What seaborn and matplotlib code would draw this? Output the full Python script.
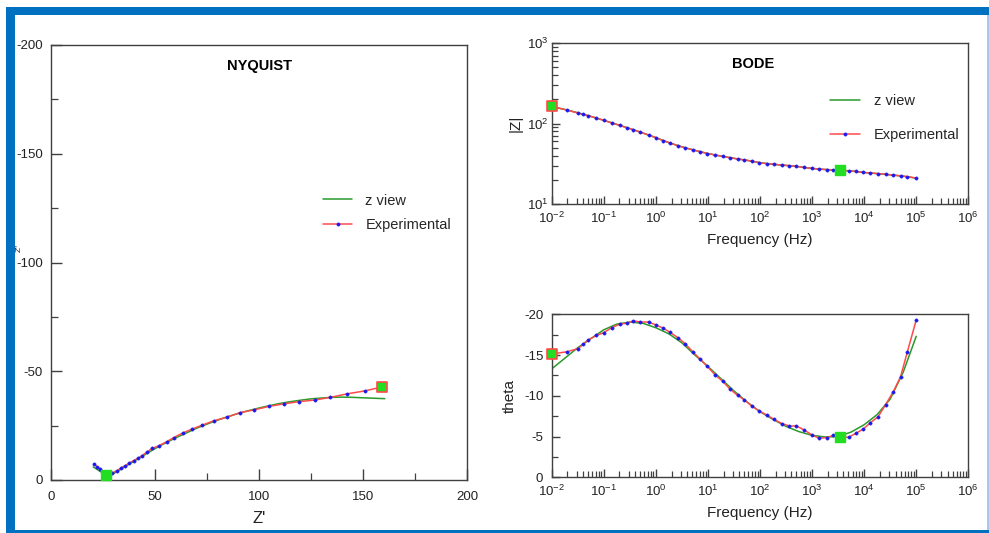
import numpy as np
import pandas as pd
import matplotlib
matplotlib.use("Agg")
import matplotlib.pyplot as plt
import seaborn as sns
from matplotlib.patches import Rectangle
from matplotlib.ticker import LogLocator, MultipleLocator, FuncFormatter, NullFormatter

# ---------------- data ----------------
# Nyquist, experimental (Z', Z'')  high -> low frequency
nyq_exp_zr = [20.5, 22.0, 23.7, 25.2, 26.6, 28.0, 29.3, 31.7, 33.6, 35.7, 37.6, 39.7, 41.8, 43.7,
              46.2, 48.6, 51.7, 55.8, 59.0, 63.3, 67.8, 72.6, 78.2, 84.6, 91.0, 97.4, 104.6, 111.8,
              119.0, 127.0, 134.3, 142.3, 151.1, 159.1]
nyq_exp_zi = [-7.5, -6.2, -5.0, -3.6, -2.4, -2.7, -3.2, -4.3, -5.5, -6.6, -7.8, -8.9, -10.0, -11.2,
              -12.9, -14.5, -15.7, -17.7, -19.5, -21.6, -23.4, -25.2, -27.2, -28.9, -31.0, -32.2, -33.8,
              -35.0, -36.0, -36.8, -38.0, -39.6, -41.0, -42.8]
# Nyquist, fit (z view)
nyq_fit_zr = [20.3, 22.0, 23.5, 25.2, 27.0, 30.0, 33.0, 36.0, 40.0, 44.0, 48.0, 52.0, 56.0, 60.0,
              65.0, 70.0, 75.0, 80.0, 85.0, 90.0, 95.0, 100.0, 105.0, 110.0, 115.0, 120.0, 125.0,
              130.0, 135.0, 140.0, 145.0, 150.0, 155.0, 160.5]
nyq_fit_zi = [-6.0, -5.0, -4.0, -3.0, -2.3, -2.9, -4.6, -6.4, -8.7, -11.0, -13.3, -15.5, -17.5, -19.4,
              -21.6, -23.8, -25.7, -27.5, -29.1, -30.6, -31.9, -33.1, -34.2, -35.2, -36.0, -36.7,
              -37.3, -37.7, -38.0, -38.1, -38.0, -37.8, -37.6, -37.4]

# Bode, experimental
exp_freq = [0.01, 0.0195, 0.0324, 0.0398, 0.0501, 0.0724, 0.1, 0.141, 0.204, 0.275, 0.372, 0.501,
            0.724, 1.0, 1.38, 1.86, 2.69, 3.63, 5.13, 7.08, 9.77, 13.8, 19.1, 26.3, 37.2, 50.1, 69.2,
            95.5, 135, 186, 263, 363, 501, 708, 1000, 1349, 1905, 2570, 3467, 5012, 6918, 9550,
            13183, 18621, 25704, 36308, 50119, 67608, 100000]
exp_modz = [164, 148, 135, 130, 126, 117.5, 110, 102, 95, 89, 84, 78.5, 72.4, 67, 61.7, 57.5, 53, 50,
            47.3, 44.7, 42.5, 40.7, 39.1, 37.7, 36.4, 35.3, 34.3, 32.7, 31.8, 31.2, 30.5, 30.1, 29.4,
            28.5, 27.7, 27.2, 26.8, 26.5, 26.3, 25.9, 25.4, 24.7, 24.3, 23.9, 23.4, 22.9, 22.4, 21.9, 21.0]
exp_theta = [-15.13, -15.4, -15.8, -16.3, -16.85, -17.4, -17.75, -18.35, -18.8, -18.9, -19.2, -19.05,
             -19.05, -18.7, -18.3, -17.8, -17.1, -16.4, -15.4, -14.5, -13.6, -12.55, -11.8, -10.85,
             -10.05, -9.5, -8.75, -8.15, -7.65, -7.1, -6.6, -6.3, -6.3, -5.8, -5.2, -4.8, -4.87, -5.15,
             -5.0, -4.9, -5.4, -5.9, -6.7, -7.45, -8.9, -10.5, -12.35, -15.4, -19.3]

# Bode, fit (z view)
fit_freq = [0.01, 0.0178, 0.0316, 0.0562, 0.1, 0.178, 0.316, 0.562, 1.0, 1.78, 3.16, 5.62, 10, 17.8,
            31.6, 56.2, 100, 178, 316, 562, 1000, 1778, 3162, 5623, 10000, 17783, 31623, 56234, 100000]
fit_modz = [163, 150, 137, 123, 110, 98, 87, 76.5, 67, 58, 51.5, 46.5, 42.5, 39.5, 37, 34.9, 32.7,
            31.2, 30.2, 29.1, 27.7, 26.9, 26.4, 25.8, 24.7, 23.9, 23.1, 22.2, 21.0]
fit_theta = [-13.3, -14.6, -15.9, -17.0, -18.1, -18.8, -19.05, -18.9, -18.35, -17.6, -16.5, -15.0,
             -13.6, -12.1, -10.6, -9.25, -8.05, -7.1, -6.25, -5.6, -5.15, -4.95, -5.0, -5.55, -6.45,
             -7.7, -9.6, -12.9, -17.3]

# selected points (cursor markers)
sel_freq = [0.01, 3467]
sel_modz = [164, 26.4]
sel_theta = [-15.1, -5.0]
sel_zr = [159.1, 26.6]
sel_zi = [-42.8, -2.4]

# ---------------- style ----------------
sns.set_style("white")
plt.rcParams['font.family'] = ['Liberation Sans', 'DejaVu Sans']
plt.rcParams['axes.unicode_minus'] = False
plt.rcParams['mathtext.fontset'] = 'custom'
plt.rcParams['mathtext.rm'] = 'Liberation Sans'
plt.rcParams['mathtext.it'] = 'Liberation Sans:italic'
plt.rcParams['mathtext.default'] = 'regular'

GREEN = "#2a9a2a"
RED = "#ff4a4a"
BLUE = "#1a1aee"
SEL_GREEN = "#22dd22"
SPINE = "#404040"
TXT = "#222222"

W, H = 989, 533
fig = plt.figure(figsize=(W / 100, H / 100), dpi=100)
fig.patch.set_facecolor("white")


def px_axes(x0, x1, ytop, ybot):
    return fig.add_axes([x0 / W, 1 - ybot / H, (x1 - x0) / W, (ybot - ytop) / H])


def style_axes(ax, major_len, minor_len, labelsize=9.5):
    for s in ax.spines.values():
        s.set_color(SPINE)
        s.set_linewidth(1.0)
        s.set_visible(True)
    ax.tick_params(which='both', direction='in', bottom=True, left=True, top=False, right=False,
                   colors=SPINE, labelcolor=TXT, labelsize=labelsize)
    ax.tick_params(which='major', length=major_len, width=1.0)
    ax.tick_params(which='minor', length=minor_len, width=0.9)
    ax.set_facecolor("white")


def draw_exp(ax, x, y, label):
    sns.lineplot(x=x, y=y, ax=ax, color=RED, lw=1.1, sort=False, estimator=None,
                 marker='o', markersize=2.4, markerfacecolor=BLUE, markeredgecolor=BLUE,
                 markeredgewidth=0.3, label=label, zorder=3)


def draw_fit(ax, x, y, label):
    sns.lineplot(x=x, y=y, ax=ax, color=GREEN, lw=1.1, sort=False, estimator=None,
                 label=label, zorder=2)


def draw_sel(ax, x, y):
    ax.scatter([x[0]], [y[0]], marker='s', s=42, facecolor=SEL_GREEN, edgecolor=RED,
               linewidth=1.2, zorder=5, clip_on=False)
    ax.scatter([x[1]], [y[1]], marker='s', s=42, facecolor=SEL_GREEN, edgecolor=SEL_GREEN,
               linewidth=1.0, zorder=5, clip_on=False)


# ---------------- Nyquist ----------------
axn = px_axes(51, 467, 45, 480)
draw_fit(axn, nyq_fit_zr, nyq_fit_zi, "z view")
draw_exp(axn, nyq_exp_zr, nyq_exp_zi, "Experimental")
draw_sel(axn, sel_zr, sel_zi)
axn.set_xlim(0, 200)
axn.set_ylim(0, -200)
style_axes(axn, 8, 5)
axn.xaxis.set_major_locator(MultipleLocator(50))
axn.xaxis.set_minor_locator(MultipleLocator(25))
axn.yaxis.set_major_locator(MultipleLocator(50))
axn.yaxis.set_minor_locator(MultipleLocator(25))
axn.yaxis.set_major_formatter(FuncFormatter(lambda v, p: f"{int(round(v))}"))
axn.tick_params(axis='x', which='major', pad=8)
axn.tick_params(axis='y', which='major', pad=6)
axn.set_xlabel("Z'", fontsize=12, color=TXT, labelpad=6)
axn.set_ylabel("")
axn.text(0.5, 0.952, "NYQUIST", transform=axn.transAxes, ha='center', va='center',
         fontsize=10.5, fontweight='bold', color='black')
axn.legend(loc='upper left', bbox_to_anchor=(0.64, 0.672), frameon=False, fontsize=10.5,
           handlelength=2.0, handletextpad=0.9, labelspacing=0.75, borderaxespad=0)

# ---------------- Bode |Z| ----------------
axb = px_axes(551.7, 968.3, 43.3, 204)
draw_fit(axb, fit_freq, fit_modz, "z view")
draw_exp(axb, exp_freq, exp_modz, "Experimental")
draw_sel(axb, sel_freq, sel_modz)
axb.set_xscale('log')
axb.set_yscale('log')
axb.set_xlim(1e-2, 1e6)
axb.set_ylim(10, 1000)
style_axes(axb, 6, 4)
axb.xaxis.set_major_locator(LogLocator(base=10, numticks=20))
axb.xaxis.set_minor_locator(LogLocator(base=10, subs=np.arange(2, 10), numticks=20))
axb.xaxis.set_minor_formatter(NullFormatter())
axb.yaxis.set_major_locator(LogLocator(base=10, numticks=10))
axb.yaxis.set_minor_locator(LogLocator(base=10, subs=np.arange(2, 10), numticks=10))
axb.yaxis.set_minor_formatter(NullFormatter())
axb.tick_params(axis='x', which='major', pad=5)
axb.tick_params(axis='y', which='major', pad=2)
axb.set_xlabel("Frequency (Hz)", fontsize=11, color=TXT, labelpad=5)
axb.set_ylabel("|Z|", fontsize=11, color=TXT, labelpad=3)
axb.text(0.483, 0.873, "BODE", transform=axb.transAxes, ha='center', va='center',
         fontsize=10.5, fontweight='bold', color='black')
axb.legend(loc='upper left', bbox_to_anchor=(0.655, 0.72), frameon=False, fontsize=10.5,
           handlelength=2.0, handletextpad=1.0, labelspacing=1.35, borderaxespad=0)

# ---------------- Bode theta ----------------
axp = px_axes(551.7, 968.3, 314.3, 477.3)
draw_fit(axp, fit_freq, fit_theta, "z view")
draw_exp(axp, exp_freq, exp_theta, "Experimental")
draw_sel(axp, sel_freq, sel_theta)
axp.set_xscale('log')
axp.set_xlim(1e-2, 1e6)
axp.set_ylim(0, -20)
style_axes(axp, 6, 4)
axp.xaxis.set_major_locator(LogLocator(base=10, numticks=20))
axp.xaxis.set_minor_locator(LogLocator(base=10, subs=np.arange(2, 10), numticks=20))
axp.xaxis.set_minor_formatter(NullFormatter())
axp.yaxis.set_major_locator(MultipleLocator(5))
axp.yaxis.set_minor_locator(MultipleLocator(2.5))
axp.yaxis.set_major_formatter(FuncFormatter(lambda v, p: f"{int(round(v))}"))
axp.tick_params(axis='x', which='major', pad=5)
axp.tick_params(axis='y', which='major', pad=6)
axp.set_xlabel("Frequency (Hz)", fontsize=11, color=TXT, labelpad=5)
axp.set_ylabel("theta", fontsize=11, color=TXT, labelpad=5)
if axp.get_legend() is not None:
    axp.get_legend().remove()

# clipped Z'' label at far left (kept clear of the -100 tick label)
fig.text(15.5 / W, 1 - 248 / H, "Z''", rotation=90, fontsize=6, color=TXT, ha='left', va='center')

# ---------------- blue frame ----------------
FRAME = "#0070c0"


def frame_rect(x0, y0, x1, y1, color):
    fig.add_artist(Rectangle((x0 / W, 1 - y1 / H), (x1 - x0) / W, (y1 - y0) / H,
                             transform=fig.transFigure, facecolor=color, edgecolor='none',
                             zorder=10))


frame_rect(6, 7, 15, 533, FRAME)
frame_rect(6, 7, 989, 15, FRAME)
frame_rect(6, 530, 989, 533, FRAME)
frame_rect(987, 15, 989, 530, "#a8c8e8")

fig.savefig("out.png", dpi=100, facecolor="white")
